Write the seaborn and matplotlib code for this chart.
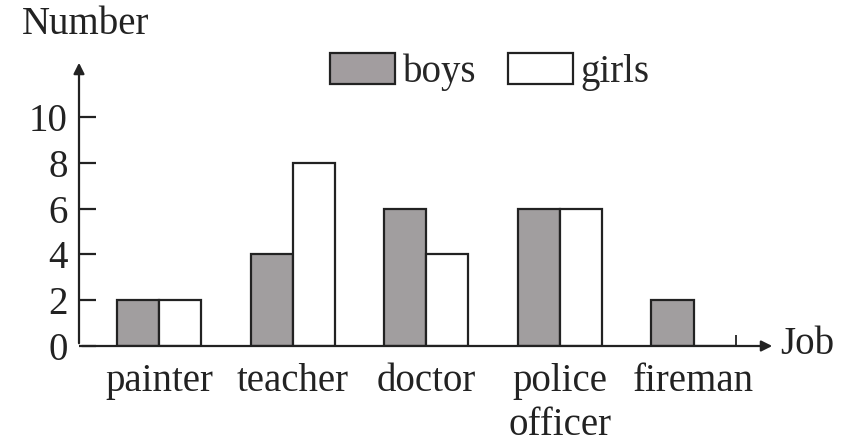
import numpy as np
import pandas as pd
import seaborn as sns
import matplotlib.pyplot as plt
from matplotlib.patches import Patch

# data
jobs = ["painter", "teacher", "doctor", "police\nofficer", "fireman"]
boys = [2, 4, 6, 6, 2]
girls = [2, 8, 4, 6, 0]
y_ticks = [0, 2, 4, 6, 8, 10]

df = pd.DataFrame({
    "job": jobs * 2,
    "count": boys + girls,
    "sex": ["boys"] * len(jobs) + ["girls"] * len(jobs),
})

sns.set_style("white")
plt.rcParams["font.family"] = ["Liberation Serif", "DejaVu Serif"]

fig = plt.figure(figsize=(8.5, 4.45), dpi=100)
ax = fig.add_axes([79 / 850, 99 / 445, 696 / 850, 286 / 445])

sns.barplot(data=df, x="job", y="count", hue="sex", order=jobs,
            palette={"boys": "#a29d9f", "girls": "white"},
            width=0.63, edgecolor="#222222", linewidth=1.6,
            legend=False, ax=ax)

ax.set_xlim(-0.6, 4.61)
ax.set_ylim(0, 12.5)
for s in ax.spines.values():
    s.set_visible(False)

# axes drawn as arrows
ax.annotate("", xy=(1, 0), xytext=(0, 0), xycoords="axes fraction",
            arrowprops=dict(arrowstyle="-|>", color="#222222", lw=1.6,
                            mutation_scale=16))
ax.annotate("", xy=(0, 1), xytext=(0, 0), xycoords="axes fraction",
            arrowprops=dict(arrowstyle="-|>", color="#222222", lw=1.6,
                            mutation_scale=16))

ax.set_yticks(y_ticks)
ax.set_yticklabels([str(v) for v in y_ticks])
ax.tick_params(axis="y", direction="in", length=12, width=1.6, color="#222222",
               labelsize=28, pad=8, left=True)
ax.tick_params(axis="x", length=0, labelsize=28, pad=12)
ax.set_xticks(range(len(jobs)))
ax.set_xticklabels(jobs, linespacing=1.25, color="#222222")
for t in ax.get_yticklabels():
    t.set_color("#222222")
ax.set_xticks([4.32], minor=True)
ax.tick_params(axis="x", which="minor", direction="in", length=8, width=1.3,
               color="#222222", bottom=True)

ax.set_xlabel("")
ax.set_ylabel("")
fig.text(22 / 850, 1 - 25 / 445, "Number", fontsize=28, va="center",
         color="#222222")
fig.text(780 / 850, 1 - 345 / 445, "Job", fontsize=28, va="center",
         color="#222222")

# legend
handles = [Patch(facecolor="#a29d9f", edgecolor="#222222", linewidth=1.6),
           Patch(facecolor="white", edgecolor="#222222", linewidth=1.6)]
fig.legend(handles, ["boys", "girls"], loc="center", ncol=2,
           bbox_to_anchor=(490 / 850, 1 - 72 / 445), frameon=False,
           fontsize=28, handlelength=1.67, handleheight=0.85,
           handletextpad=0.2, columnspacing=0.8)

fig.savefig("out.png", dpi=100)
